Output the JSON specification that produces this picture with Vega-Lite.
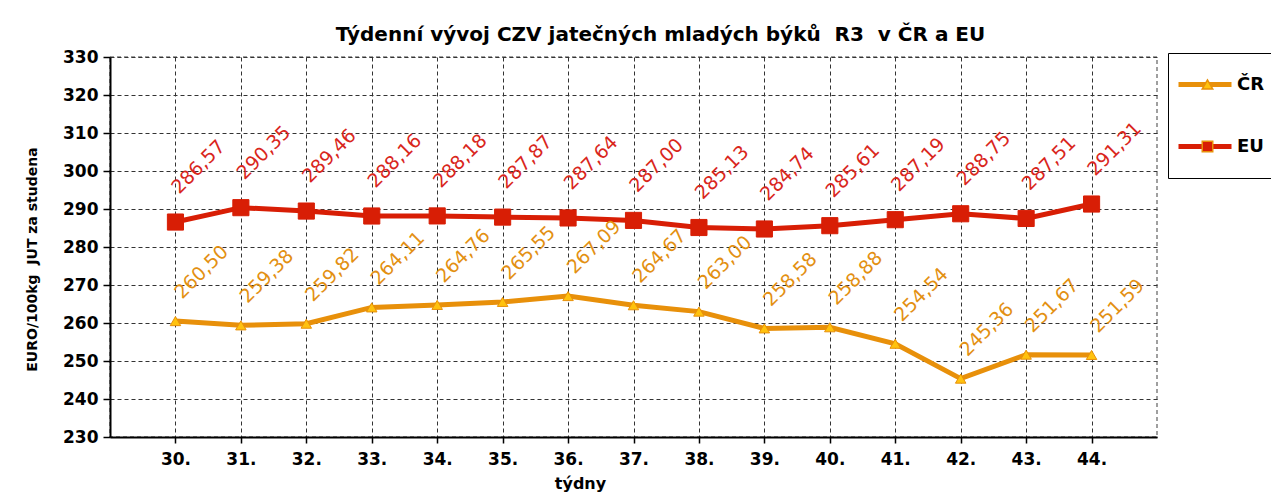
{
  "$schema": "https://vega.github.io/schema/vega-lite/v6.json",
  "width": 1047,
  "height": 380,
  "autosize": {"type": "none"},
  "padding": {"left": 110, "top": 57, "right": 114, "bottom": 64},
  "background": "white",
  "title": {
    "text": "Týdenní vývoj CZV jatečných mladých býků\u00a0\u00a0R3\u00a0\u00a0v ČR a EU",
    "font": "DejaVu Sans",
    "fontSize": 20,
    "fontWeight": "bold",
    "color": "#000000",
    "anchor": "middle",
    "offset": 3,
    "dx": 27
  },
  "config": {
    "locale": {
      "number": {"decimal": ",", "thousands": " ", "grouping": [3], "currency": ["", ""]}
    },
    "view": {"stroke": "#808080", "strokeDash": [4, 3], "strokeWidth": 1.5},
    "axis": {
      "gridColor": "#333333",
      "gridDash": [4, 3],
      "gridWidth": 1,
      "gridOpacity": 1,
      "domainColor": "#000000",
      "domainWidth": 2,
      "tickColor": "#000000",
      "tickWidth": 1.5,
      "labelFont": "DejaVu Sans",
      "labelFontWeight": "bold",
      "labelColor": "#000000",
      "titleFont": "DejaVu Sans",
      "titleFontWeight": "bold",
      "titleColor": "#000000"
    }
  },
  "data": {
    "values": [
      {"week": "30.", "series": "ČR", "price": 260.50},
      {"week": "31.", "series": "ČR", "price": 259.38},
      {"week": "32.", "series": "ČR", "price": 259.82},
      {"week": "33.", "series": "ČR", "price": 264.11},
      {"week": "34.", "series": "ČR", "price": 264.76},
      {"week": "35.", "series": "ČR", "price": 265.55},
      {"week": "36.", "series": "ČR", "price": 267.09},
      {"week": "37.", "series": "ČR", "price": 264.67},
      {"week": "38.", "series": "ČR", "price": 263.00},
      {"week": "39.", "series": "ČR", "price": 258.58},
      {"week": "40.", "series": "ČR", "price": 258.88},
      {"week": "41.", "series": "ČR", "price": 254.54},
      {"week": "42.", "series": "ČR", "price": 245.36},
      {"week": "43.", "series": "ČR", "price": 251.67},
      {"week": "44.", "series": "ČR", "price": 251.59},
      {"week": "30.", "series": "EU", "price": 286.57},
      {"week": "31.", "series": "EU", "price": 290.35},
      {"week": "32.", "series": "EU", "price": 289.46},
      {"week": "33.", "series": "EU", "price": 288.16},
      {"week": "34.", "series": "EU", "price": 288.18},
      {"week": "35.", "series": "EU", "price": 287.87},
      {"week": "36.", "series": "EU", "price": 287.64},
      {"week": "37.", "series": "EU", "price": 287.00},
      {"week": "38.", "series": "EU", "price": 285.13},
      {"week": "39.", "series": "EU", "price": 284.74},
      {"week": "40.", "series": "EU", "price": 285.61},
      {"week": "41.", "series": "EU", "price": 287.19},
      {"week": "42.", "series": "EU", "price": 288.75},
      {"week": "43.", "series": "EU", "price": 287.51},
      {"week": "44.", "series": "EU", "price": 291.31}
    ]
  },
  "encoding": {
    "x": {
      "field": "week",
      "type": "ordinal",
      "sort": null,
      "scale": {"type": "point", "padding": 1},
      "axis": {
        "title": "týdny",
        "titleFontSize": 16,
        "titleX": 470,
        "titleY": 46,
        "titleBaseline": "middle",
        "titleAlign": "center",
        "labelAngle": 0,
        "labelFontSize": 17,
        "labelPadding": 8,
        "tickSize": 6,
        "grid": true
      }
    },
    "y": {
      "field": "price",
      "type": "quantitative",
      "scale": {"domain": [230, 330], "nice": false, "zero": false},
      "axis": {
        "title": "EURO/100kg\u00a0\u00a0JUT za studena",
        "titleFontSize": 14,
        "titleX": -78,
        "titleY": 202,
        "titleAngle": -90,
        "titleAlign": "center",
        "titleBaseline": "middle",
        "values": [230, 240, 250, 260, 270, 280, 290, 300, 310, 320, 330],
        "labelFontSize": 17,
        "labelPadding": 5,
        "tickSize": 7,
        "grid": true
      }
    }
  },
  "layer": [
    {
      "mark": {"type": "line", "strokeWidth": 5},
      "encoding": {
        "stroke": {
          "field": "series",
          "type": "nominal",
          "sort": "descending",
          "scale": {"range": ["#E8900A", "#D81E05"]},
          "legend": {
            "orient": "none",
            "legendX": 1058,
            "legendY": -4,
            "title": null,
            "symbolType": "stroke",
            "symbolSize": 2809,
            "symbolStrokeWidth": 5,
            "padding": 8,
            "rowPadding": 15,
            "clipHeight": 47,
            "labelFont": "DejaVu Sans",
            "labelFontSize": 18,
            "labelFontWeight": "bold",
            "labelColor": "#000000",
            "labelOffset": 3,
            "strokeColor": "#000000",
            "zindex": 1
          }
        }
      }
    },
    {
      "mark": {"type": "point", "filled": true, "opacity": 1, "strokeWidth": 1},
      "encoding": {
        "shape": {
          "field": "series",
          "type": "nominal",
          "scale": {"domain": ["ČR", "EU"], "range": ["triangle-up", "square"]},
          "legend": {
            "orient": "none",
            "legendX": 1081,
            "legendY": -4,
            "title": null,
            "symbolSize": 110,
            "padding": 8,
            "rowPadding": 15,
            "clipHeight": 47,
            "labelFontSize": 17,
            "labelExpr": "''",
            "zindex": 2,
            "symbolOpacity": 1,
            "encode": {
              "symbols": {
                "update": {
                  "stroke": {"signal": "datum.value === 'EU' ? '#D81E05' : '#E8900A'"},
                  "size": {"signal": "datum.value === 'EU' ? 260 : 110"},
                  "strokeWidth": {"value": 1}
                }
              }
            }
          }
        },
        "fill": {
          "field": "series",
          "type": "nominal",
          "scale": {"domain": ["ČR", "EU"], "range": ["#FFC20E", "#D81E05"]},
          "legend": {
            "orient": "none",
            "legendX": 1081,
            "legendY": -4,
            "title": null,
            "symbolSize": 110,
            "padding": 8,
            "rowPadding": 15,
            "clipHeight": 47,
            "labelFontSize": 17,
            "labelExpr": "''",
            "zindex": 2
          }
        },
        "stroke": {
          "condition": {"test": "datum.series === 'EU'", "value": "#D81E05"},
          "value": "#E8900A"
        },
        "size": {
          "condition": {"test": "datum.series === 'EU'", "value": 260},
          "value": 110
        }
      }
    },
    {
      "transform": [{"filter": "datum.series === 'EU'"}],
      "mark": {
        "type": "text",
        "angle": -45,
        "align": "center",
        "baseline": "middle",
        "xOffset": 23,
        "yOffset": -55,
        "font": "DejaVu Sans",
        "fontSize": 19,
        "color": "#D9261C"
      },
      "encoding": {
        "text": {"field": "price", "type": "quantitative", "format": ".2f"}
      }
    },
    {
      "transform": [{"filter": "datum.series === 'ČR'"}],
      "mark": {
        "type": "text",
        "angle": -45,
        "align": "center",
        "baseline": "middle",
        "xOffset": 26,
        "yOffset": -49,
        "font": "DejaVu Sans",
        "fontSize": 19,
        "color": "#E39012"
      },
      "encoding": {
        "text": {"field": "price", "type": "quantitative", "format": ".2f"}
      }
    }
  ]
}
